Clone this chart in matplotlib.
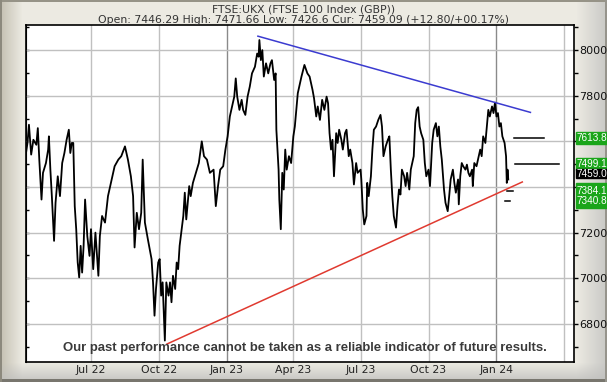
import numpy as np
import pandas as pd
import matplotlib
matplotlib.use("Agg")
import matplotlib.pyplot as plt

# FTSE 100 price path (date, level)
dates = [
    "2022-04-04", "2022-04-06", "2022-04-08", "2022-04-11", "2022-04-14", "2022-04-18", "2022-04-20", "2022-04-22",
    "2022-04-25", "2022-04-27", "2022-05-01", "2022-05-04", "2022-05-05", "2022-05-07", "2022-05-09", "2022-05-12",
    "2022-05-14", "2022-05-17", "2022-05-20", "2022-05-23", "2022-05-26", "2022-05-29", "2022-06-01", "2022-06-03",
    "2022-06-05", "2022-06-07", "2022-06-09", "2022-06-11", "2022-06-13", "2022-06-15", "2022-06-17", "2022-06-19",
    "2022-06-21", "2022-06-23", "2022-06-26", "2022-06-29", "2022-07-01", "2022-07-04", "2022-07-07", "2022-07-11",
    "2022-07-13", "2022-07-16", "2022-07-20", "2022-07-24", "2022-07-29", "2022-08-02", "2022-08-07", "2022-08-11",
    "2022-08-16", "2022-08-20", "2022-08-24", "2022-08-27", "2022-08-29", "2022-09-01", "2022-09-04", "2022-09-07",
    "2022-09-09", "2022-09-12", "2022-09-16", "2022-09-21", "2022-09-23", "2022-09-25", "2022-09-27", "2022-09-30",
    "2022-10-02", "2022-10-04", "2022-10-06", "2022-10-09", "2022-10-11", "2022-10-14", "2022-10-16", "2022-10-18",
    "2022-10-20", "2022-10-23", "2022-10-25", "2022-10-27", "2022-10-29", "2022-11-01", "2022-11-03", "2022-11-05",
    "2022-11-07", "2022-11-11", "2022-11-13", "2022-11-16", "2022-11-20", "2022-11-24", "2022-11-28", "2022-12-01",
    "2022-12-05", "2022-12-09", "2022-12-14", "2022-12-17", "2022-12-20", "2022-12-23", "2022-12-27", "2022-12-30",
    "2023-01-02", "2023-01-05", "2023-01-09", "2023-01-11", "2023-01-13", "2023-01-15", "2023-01-18", "2023-01-21",
    "2023-01-23", "2023-01-26", "2023-01-29", "2023-02-01", "2023-02-04", "2023-02-08", "2023-02-11", "2023-02-13",
    "2023-02-14", "2023-02-16", "2023-02-18", "2023-02-20", "2023-02-23", "2023-02-26", "2023-03-01", "2023-03-03",
    "2023-03-06", "2023-03-08", "2023-03-09", "2023-03-12", "2023-03-13", "2023-03-15", "2023-03-17", "2023-03-19",
    "2023-03-21", "2023-03-23", "2023-03-26", "2023-03-29", "2023-04-01", "2023-04-03", "2023-04-07", "2023-04-12",
    "2023-04-16", "2023-04-20", "2023-04-23", "2023-04-27", "2023-04-29", "2023-05-02", "2023-05-04", "2023-05-07",
    "2023-05-10", "2023-05-13", "2023-05-16", "2023-05-18", "2023-05-20", "2023-05-22", "2023-05-24", "2023-05-26",
    "2023-05-29", "2023-05-31", "2023-06-02", "2023-06-05", "2023-06-07", "2023-06-10", "2023-06-12", "2023-06-15",
    "2023-06-17", "2023-06-20", "2023-06-22", "2023-06-25", "2023-06-27", "2023-07-01", "2023-07-02", "2023-07-04",
    "2023-07-06", "2023-07-09", "2023-07-10", "2023-07-12", "2023-07-15", "2023-07-17", "2023-07-19", "2023-07-22",
    "2023-07-25", "2023-07-28", "2023-07-30", "2023-08-01", "2023-08-04", "2023-08-07", "2023-08-09", "2023-08-11",
    "2023-08-13", "2023-08-15", "2023-08-18", "2023-08-20", "2023-08-22", "2023-08-24", "2023-08-26", "2023-08-29",
    "2023-08-31", "2023-09-02", "2023-09-05", "2023-09-07", "2023-09-09", "2023-09-11", "2023-09-13", "2023-09-15",
    "2023-09-17", "2023-09-19", "2023-09-21", "2023-09-24", "2023-09-26", "2023-09-28", "2023-10-01", "2023-10-03",
    "2023-10-06", "2023-10-08", "2023-10-11", "2023-10-13", "2023-10-15", "2023-10-17", "2023-10-19", "2023-10-22",
    "2023-10-24", "2023-10-27", "2023-10-29", "2023-10-31", "2023-11-03", "2023-11-05", "2023-11-07", "2023-11-10",
    "2023-11-11", "2023-11-13", "2023-11-15", "2023-11-17", "2023-11-20", "2023-11-22", "2023-11-24", "2023-11-26",
    "2023-11-29", "2023-11-30", "2023-12-02", "2023-12-05", "2023-12-08", "2023-12-10", "2023-12-12", "2023-12-14",
    "2023-12-17", "2023-12-19", "2023-12-21", "2023-12-23", "2023-12-26", "2023-12-28", "2023-12-30", "2024-01-01",
    "2024-01-03", "2024-01-05", "2024-01-07", "2024-01-09", "2024-01-12", "2024-01-14", "2024-01-15", "2024-01-16",
    "2024-01-17",
]
prices = [
    7549, 7593, 7673, 7542, 7607, 7585, 7658, 7520, 7345, 7462, 7505, 7564, 7622, 7476, 7360, 7164,
    7331, 7447, 7360, 7505, 7549, 7607, 7651, 7549, 7593, 7593, 7316, 7215, 7069, 7004, 7142, 7025,
    7142, 7345, 7185, 7098, 7215, 7040, 7200, 7011, 7185, 7273, 7244, 7360, 7433, 7491, 7520, 7535,
    7578, 7520, 7447, 7360, 7135, 7287, 7215, 7287, 7520, 7244, 7171, 7084, 6982, 6836, 6953, 7069,
    7084, 6924, 6982, 6727, 6982, 6924, 6982, 6895, 7011, 6953, 7069, 7040, 7142, 7222, 7273, 7375,
    7258, 7404, 7360, 7418, 7462, 7505, 7600, 7535, 7520, 7462, 7476, 7316, 7404, 7476, 7491, 7564,
    7622, 7709, 7767, 7796, 7876, 7796, 7738, 7782, 7738, 7716, 7796, 7840, 7898, 7927, 7985, 7971,
    8044, 7956, 8000, 7884, 7942, 7898, 7942, 7956, 7869, 7898, 7651, 7476, 7345, 7215, 7462, 7389,
    7564, 7476, 7535, 7505, 7622, 7665, 7811, 7884, 7935, 7898, 7884, 7825, 7789, 7709, 7753, 7694,
    7782, 7738, 7796, 7767, 7636, 7564, 7607, 7447, 7636, 7593, 7651, 7607, 7564, 7636, 7651, 7535,
    7564, 7505, 7411, 7505, 7462, 7476, 7433, 7302, 7236, 7273, 7418, 7360, 7447, 7564, 7651, 7665,
    7694, 7716, 7665, 7535, 7578, 7607, 7622, 7476, 7360, 7273, 7222, 7316, 7389, 7367, 7476, 7447,
    7404, 7462, 7389, 7476, 7505, 7535, 7680, 7738, 7750, 7665, 7636, 7607, 7505, 7447, 7476, 7404,
    7593, 7651, 7680, 7622, 7665, 7578, 7520, 7389, 7331, 7294, 7360, 7433, 7476, 7418, 7375, 7433,
    7324, 7447, 7505, 7491, 7476, 7498, 7462, 7447, 7476, 7404, 7505, 7491, 7535, 7564, 7535, 7622,
    7593, 7665, 7738, 7709, 7753, 7724, 7770, 7709, 7724, 7665, 7680, 7622, 7593, 7535, 7418, 7476,
    7433,
]

# trend lines (start, end)
resist_dates = ["2023-02-12", "2024-02-16"]
resist_vals = [8061, 7727]
support_dates = ["2022-10-12", "2024-02-05"]
support_vals = [6712, 7422]

# target levels drawn as short dashes to the right of the price
target_vals = [7613.8, 7499.1, 7384.1, 7340.8]
target_starts = ["2024-01-25", "2024-01-26", "2024-01-15", "2024-01-13"]
target_ends = ["2024-03-06", "2024-03-26", "2024-01-23", "2024-01-20"]
current_val = 7459.0

tick_dates = ["2022-07-01", "2022-10-01", "2023-01-01", "2023-04-01",
              "2023-07-01", "2023-10-01", "2024-01-01", "2024-04-01"]
tick_labels = ["Jul 22", "Oct 22", "Jan 23", "Apr 23", "Jul 23", "Oct 23", "Jan 24", ""]
y_ticks = [6800, 7000, 7200, 7400, 7600, 7800, 8000]
y_labels = ["6800", "7000", "7200", "", "", "7800", "8000"]

title = "FTSE:UKX (FTSE 100 Index (GBP))"
subtitle = "Open: 7446.29 High: 7471.66 Low: 7426.6 Cur: 7459.09 (+12.80/+00.17%)"
disclaimer = "Our past performance cannot be taken as a reliable indicator of future results."

W, H = 607, 382
YMIN, YMAX = 6633, 8110
fig = plt.figure(figsize=(W / 100, H / 100), dpi=100)

# bevelled frame background
bg = np.zeros((H, W, 3))
bg[:, :] = [236, 234, 226]
xs = np.arange(W)
ys = np.arange(H)
left = np.clip(1 - xs / 22.0, 0, 1)[None, :, None]
bg = bg * (1 - left) + np.array([196, 192, 178]) * left
right = np.clip((xs - 576) / 31.0, 0, 1)[None, :, None]
bg = bg * (1 - right * 0.9) + np.array([196, 196, 194]) * right * 0.9
bottom = np.clip((ys - 362) / 18.0, 0, 1)[:, None, None]
bg = bg * (1 - bottom * 0.8) + np.array([190, 190, 188]) * bottom * 0.8
bg[:2, :] = [150, 147, 135]
bg[-3:, :] = [120, 118, 110]
bg[:, :2] = [140, 137, 125]
bg[:, -2:] = [150, 148, 140]
bax = fig.add_axes([0, 0, 1, 1])
bax.imshow(bg.astype(np.uint8), aspect="auto", extent=[0, W, H, 0])
bax.axis("off")

L, R, T, B = 26, 574, 25, 362
ax = fig.add_axes([L / W, 1 - B / H, (R - L) / W, (B - T) / H])
ax.set_facecolor("white")

d = pd.to_datetime(dates)
ax.plot(d, prices, color="black", lw=1.3, zorder=3)

ax.plot(pd.to_datetime(resist_dates), resist_vals, color="#3b3bd0", lw=1.1, zorder=4)
ax.plot(pd.to_datetime(support_dates), support_vals, color="#e03a30", lw=1.1, zorder=4)
for v, s, e in zip(target_vals, target_starts, target_ends):
    ax.plot(pd.to_datetime([s, e]), [v, v], color="black", lw=1.1, zorder=4)

ax.set_xlim(pd.Timestamp("2022-04-04"), pd.Timestamp("2024-04-15"))
ax.set_ylim(YMIN, YMAX)

td = pd.to_datetime(tick_dates)
ax.set_xticks(td)
ax.set_xticklabels(tick_labels, fontsize=7.8, color="#222222")
for t in td:
    c = "#8a8a8a" if t.month == 1 else "#c0c0c0"
    ax.axvline(t, color=c, lw=1, zorder=1)
for v in y_ticks:
    ax.axhline(v, color="#c0c0c0", lw=1, zorder=1)

ax.yaxis.tick_right()
ax.set_yticks(y_ticks)
ax.set_yticklabels(y_labels, fontsize=8, color="#111111")
ax.set_yticks(np.arange(6700, 8101, 100), minor=True)
ax.tick_params(axis="y", which="both", direction="out", length=3, width=1, pad=1)
ax.tick_params(axis="x", length=0, pad=2)
for sp in ax.spines.values():
    sp.set_color("black")
    sp.set_linewidth(1.2)

# inward ticks on the left edge
lax = ax.secondary_yaxis("left")
lax.set_yticks(np.arange(6700, 8101, 100))
lax.tick_params(direction="in", length=2, width=1, labelleft=False)

# disclaimer, fitted to the width it has in the original
txt = ax.text(0.508, 0.042, disclaimer, transform=ax.transAxes, ha="center", va="center",
              fontsize=10, fontweight="bold", color="#3a3a3a",
              family=["Liberation Sans", "DejaVu Sans"], zorder=6)
rend = fig.canvas.get_renderer()
wpx = txt.get_window_extent(rend).width
txt.set_fontsize(10 * 486.0 / wpx)


def fig_y(val):
    return 1 - ((B - T) * (YMAX - val) / (YMAX - YMIN) + T) / H


def tag(val, fc, h=12):
    y = fig_y(val)
    fig.patches.append(plt.Rectangle(((R + 2) / W, y - h / 2 / H), 40 / W, h / H,
                                     transform=fig.transFigure, color=fc, zorder=5))


def tag_text(val, s):
    fig.text((R + 3) / W, fig_y(val), s, ha="left", va="center", fontsize=7.2,
             color="white", family=["Liberation Sans", "DejaVu Sans"], zorder=6)


tag(target_vals[0], "#1aa51a")
tag(target_vals[1], "#1aa51a")
tag((target_vals[2] + target_vals[3]) / 2, "#1aa51a", h=25)
tag(current_val, "black", h=9)
for v in target_vals:
    tag_text(v, f"{v:.1f}")
tag_text(current_val, f"{current_val:.1f}")

fig.text(0.5, 1 - 9 / H, title, ha="center", va="center", fontsize=7.8, color="#333333")
fig.text(0.5, 1 - 20 / H, subtitle, ha="center", va="center", fontsize=7.8, color="#333333")

fig.savefig("out.png", dpi=100)
